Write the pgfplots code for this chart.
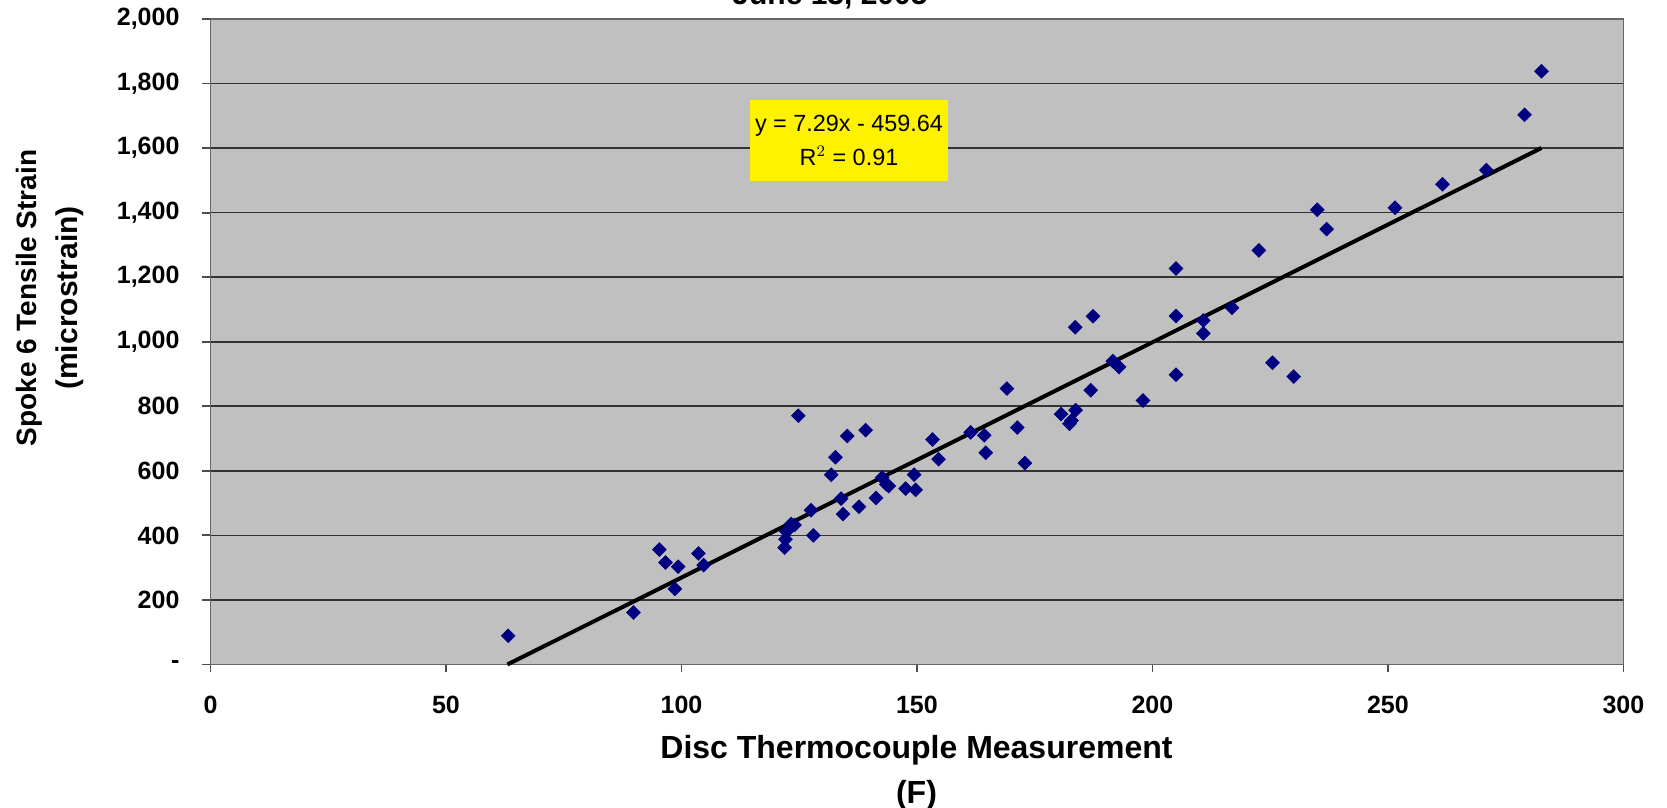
\documentclass[border=0pt]{standalone}
\usepackage{fontspec}
\setmainfont{Liberation Sans}
\usepackage{pgfplots}
\pgfplotsset{compat=1.18}
\definecolor{plotbg}{HTML}{C0C0C0}
\definecolor{navy}{HTML}{000080}
\begin{document}
\begin{tikzpicture}[x=0.5pt,y=0.5pt]
\begin{axis}[
  at={(105.25pt,71.75pt)}, anchor=south west,
  width=706.45pt, height=322.75pt, scale only axis,
  xmin=0, xmax=300, ymin=0, ymax=2000,
  xtick={0,50,...,300}, ytick={0,200,...,2000},
  yticklabels={{-},{200},{400},{600},{800},{1,000},{1,200},{1,400},{1,600},{1,800},{2,000}},
  xticklabels={0,50,100,150,200,250,300},
  axis background/.style={fill=plotbg},
  ymajorgrids, grid style={black!80, line width=0.8pt},
  axis line style={black!60, line width=0.9pt},
  tick style={black!70, line width=0.9pt},
  major tick length=4pt, tick align=outside,
  xtick pos=bottom, ytick pos=left,
  tick label style={font=\fontsize{12.5}{14}\selectfont\bfseries},
  /pgf/number format/assume math mode=true,
  yticklabel style={anchor=east, xshift=-8pt},
  xticklabel style={anchor=north, yshift=-8pt},
  clip=false,
]
\addplot[black, line width=2pt] coordinates {(63.05,0) (282.6,1600.5)};
\addplot[only marks, mark=square*, mark size=2.4pt, mark options={fill=navy, draw=navy, rotate=45}] coordinates {
(63.2,89) (89.8,161) (95.3,356) (96.6,316) (98.6,234) (99.3,303)
(103.6,344) (104.7,308) (121.9,362) (122.1,388) (122.3,412) (123.3,435)
(124.0,432) (124.8,771) (127.5,478) (128.0,400) (131.8,588) (132.7,642)
(133.9,514) (134.3,466) (135.2,708) (137.7,489) (139.1,726) (141.3,516)
(142.6,579) (143.5,558) (144.0,553) (147.6,545) (149.4,588) (149.7,541)
(153.3,697) (154.6,636) (161.4,719) (164.3,710) (164.6,656) (169.1,855)
(171.3,734) (172.9,624) (180.6,776) (182.4,746) (182.8,756) (183.7,788)
(183.6,1045) (186.9,850) (187.4,1079) (191.6,940) (192.9,922) (198.0,818)
(205.0,1227) (205.0,1080) (205.0,898) (210.8,1066) (210.8,1026) (216.9,1105)
(222.6,1283) (225.5,935) (230.0,892) (235.0,1409) (237.0,1349) (251.5,1415)
(261.6,1488) (270.9,1532) (279.0,1703) (282.6,1838)
};
\end{axis}
\node[font=\fontsize{15}{17}\selectfont\bfseries, anchor=base] at (830,803) {June 13, 2005};
\node[fill=yellow, minimum width=99pt, minimum height=40.5pt, align=center, inner sep=0pt,
  font=\fontsize{11.7}{17}\selectfont] at (849,667.5) {y = 7.29x - 459.64\\R$^2$ = 0.91};
\node[font=\fontsize{16}{18}\selectfont\bfseries] at (916.5,58) {Disc Thermocouple Measurement};
\node[font=\fontsize{16}{18}\selectfont\bfseries] at (916.5,13) {(F)};
\node[font=\fontsize{14}{16}\selectfont\bfseries, rotate=90] at (29,510) {Spoke 6 Tensile Strain};
\node[font=\fontsize{15}{16}\selectfont\bfseries, rotate=90] at (70,510) {(microstrain)};
\pgfresetboundingbox
\path (0,0) rectangle (1667,808);
\end{tikzpicture}
\end{document}
